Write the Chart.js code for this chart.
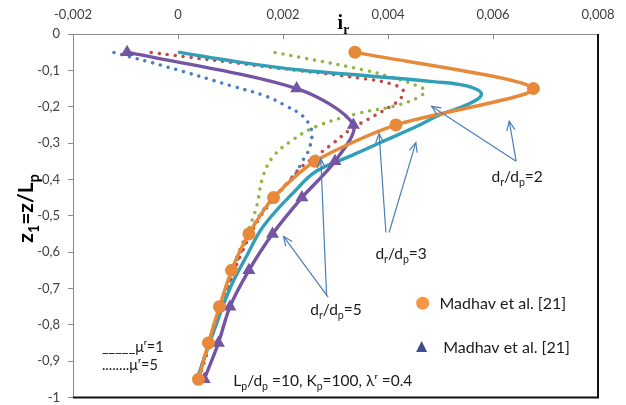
<!DOCTYPE html>
<html><head><meta charset="utf-8">
<script src="https://cdn.jsdelivr.net/npm/chart.js@4"></script>
<style>html,body{margin:0;padding:0;background:#fff;}#wrap{width:626px;height:405px;}</style>
</head><body><div id="wrap"><canvas id="c" width="626" height="405"></canvas></div>
<script>
// ---- tick labels ----
const xTickValues = [-0.002, 0, 0.002, 0.004, 0.006, 0.008];
const xTickLabels = ['-0,002', '0', '0,002', '0,004', '0,006', '0,008'];
const yTickValues = [0, -0.1, -0.2, -0.3, -0.4, -0.5, -0.6, -0.7, -0.8, -0.9, -1];
const yTickLabels = ['0', '-0,1', '-0,2', '-0,3', '-0,4', '-0,5', '-0,6', '-0,7', '-0,8', '-0,9', '-1'];

// ---- mu_r = 1 (solid) ----
const z_mu1_d2 = [-0.05, -0.15, -0.25, -0.35, -0.45, -0.55, -0.65, -0.75, -0.85, -0.95];
const ir_mu1_d2 = [0.00337, 0.00677, 0.00415, 0.00261, 0.00182, 0.00135, 0.00102, 0.00079, 0.00058, 0.00039];

const z_mu1_d5 = [-0.05, -0.15, -0.25, -0.35, -0.45, -0.55, -0.65, -0.75, -0.85, -0.95];
const ir_mu1_d5 = [-0.00097, 0.00226, 0.00334, 0.00299, 0.00236, 0.00180, 0.00135, 0.00099, 0.00077, 0.00050];

const z_mu1_d3 = [-0.05, -0.078, -0.099, -0.115, -0.131, -0.143, -0.166, -0.195, -0.222, -0.254, -0.295, -0.336, -0.377, -0.427, -0.528, -0.61, -0.70, -0.81, -0.90, -0.95];
const ir_mu1_d3 = [0.0, 0.0012, 0.00232, 0.0036, 0.00486, 0.0055, 0.00578, 0.0055, 0.00499, 0.00455, 0.00391, 0.00328, 0.00264, 0.00226, 0.00163, 0.00131, 0.00099, 0.0007, 0.00048, 0.00036];

// ---- mu_r = 5 (dotted) ----
const z_mu5_d2 = [-0.051, -0.064, -0.101, -0.126, -0.146, -0.155, -0.172, -0.199, -0.217, -0.254, -0.29, -0.336, -0.391, -0.473, -0.528, -0.592, -0.665, -0.738, -0.81, -0.88, -0.95];
const ir_mu5_d2 = [0.00185, 0.00232, 0.0036, 0.00423, 0.00461, 0.0047, 0.00461, 0.0041, 0.00347, 0.00264, 0.0022, 0.00182, 0.00162, 0.0015, 0.00137, 0.00118, 0.00099, 0.00083, 0.00067, 0.00052, 0.0004];

const z_mu5_d3 = [-0.051, -0.09, -0.124, -0.14, -0.158, -0.18, -0.2, -0.236, -0.263, -0.300, -0.335, -0.370, -0.41, -0.45, -0.5, -0.6, -0.7, -0.8, -0.88, -0.95];
const ir_mu5_d3 = [-0.00051, 0.00169, 0.0036, 0.00412, 0.0043, 0.00422, 0.00404, 0.0036, 0.00328, 0.00296, 0.00264, 0.00232, 0.00208, 0.00186, 0.00158, 0.00122, 0.00095, 0.00072, 0.00055, 0.0004];

const z_mu5_d5 = [-0.051, -0.09, -0.144, -0.172, -0.199, -0.225, -0.255, -0.281, -0.31, -0.332, -0.354, -0.382, -0.43, -0.5, -0.6, -0.7, -0.8, -0.88, -0.95];
const ir_mu5_d5 = [-0.00122, -0.00022, 0.00105, 0.00169, 0.00207, 0.00237, 0.00252, 0.00255, 0.00251, 0.00245, 0.00235, 0.00226, 0.00195, 0.00155, 0.0012, 0.00093, 0.0007, 0.00052, 0.00038];

const legendText = 'Madhav et al. [21]';

// ---- annotation placement (data units) ----
const ANN = {
  labels: [
    { n: '2', x: 0.00646, y: -0.407 },
    { n: '3', x: 0.00425, y: -0.619 },
    { n: '5', x: 0.00301, y: -0.772 }
  ],
  arrows: [
    [0.00644, -0.350, 0.00483, -0.199],
    [0.00644, -0.350, 0.00631, -0.240],
    [0.00396, -0.546, 0.00383, -0.274],
    [0.00402, -0.546, 0.00453, -0.299],
    [0.00286, -0.724, 0.00201, -0.557],
    [0.00283, -0.720, 0.00272, -0.343]
  ]
};

const pts = (xs, ys) => xs.map((v, i) => ({ x: v, y: ys[i] }));
const lookup = (v, vals, labs) => {
  for (let i = 0; i < vals.length; i++) if (Math.abs(vals[i] - v) < 1e-9) return labs[i];
  return '';
};

function rich(ctx, parts, x, y, size, family, weight, align, color) {
  const fonts = parts.map(p => `${weight} ${p[1] ? size * 0.68 : size}px ${family}`);
  const widths = parts.map((p, i) => { ctx.font = fonts[i]; return ctx.measureText(p[0]).width; });
  const total = widths.reduce((a, b) => a + b, 0);
  let cx = align === 'center' ? x - total / 2 : x;
  ctx.fillStyle = color;
  ctx.textAlign = 'left';
  ctx.textBaseline = 'alphabetic';
  parts.forEach((p, i) => {
    ctx.font = fonts[i];
    ctx.fillText(p[0], cx, y + (p[1] ? size * 0.27 : 0));
    cx += widths[i];
  });
}

const overlay = {
  id: 'overlay',
  afterDatasetsDraw(chart) {
    const { ctx, chartArea: a, scales: { x, y } } = chart;
    ctx.save();
    // inward ticks on the top axis
    ctx.strokeStyle = '#8a8a8a'; ctx.lineWidth = 1;
    xTickValues.forEach(v => {
      const px = Math.round(x.getPixelForValue(v)) + 0.5;
      ctx.beginPath(); ctx.moveTo(px, a.top); ctx.lineTo(px, a.top + 5); ctx.stroke();
    });
    // frame lines right & bottom
    ctx.strokeStyle = '#111'; ctx.lineWidth = 2;
    ctx.beginPath(); ctx.moveTo(a.left, a.bottom); ctx.lineTo(a.right, a.bottom); ctx.lineTo(a.right, a.top); ctx.stroke();

    // arrows
    ctx.strokeStyle = '#4A7EBB'; ctx.lineWidth = 1.2;
    ANN.arrows.forEach(([x0, y0, x1, y1]) => {
      const p0x = x.getPixelForValue(x0), p0y = y.getPixelForValue(y0);
      const p1x = x.getPixelForValue(x1), p1y = y.getPixelForValue(y1);
      ctx.beginPath(); ctx.moveTo(p0x, p0y); ctx.lineTo(p1x, p1y); ctx.stroke();
      const ang = Math.atan2(p1y - p0y, p1x - p0x), L = 10, h = 0.42;
      ctx.beginPath();
      ctx.moveTo(p1x - L * Math.cos(ang - h), p1y - L * Math.sin(ang - h));
      ctx.lineTo(p1x, p1y);
      ctx.lineTo(p1x - L * Math.cos(ang + h), p1y - L * Math.sin(ang + h));
      ctx.stroke();
    });
    // d_r/d_p labels
    ANN.labels.forEach(l => {
      rich(ctx, [['d', 0], ['r', 1], ['/d', 0], ['p', 1], ['=' + l.n, 0]],
        x.getPixelForValue(l.x), y.getPixelForValue(l.y), 15.5, 'Lato', 'normal', 'center', '#1a1a1a');
    });
    // legend markers and texts
    const lx1 = x.getPixelForValue(0.00466), ly1 = y.getPixelForValue(-0.7405);
    ctx.fillStyle = '#F79646';
    ctx.beginPath(); ctx.arc(lx1, ly1, 6.5, 0, Math.PI * 2); ctx.fill();
    const lx2 = x.getPixelForValue(0.00464), ly2 = y.getPixelForValue(-0.861);
    ctx.fillStyle = '#3D4F8C';
    ctx.beginPath(); ctx.moveTo(lx2, ly2 - 6); ctx.lineTo(lx2 + 5.5, ly2 + 5); ctx.lineTo(lx2 - 5.5, ly2 + 5); ctx.closePath(); ctx.fill();
    rich(ctx, [[legendText, 0]], x.getPixelForValue(0.00498), y.getPixelForValue(-0.756), 16, 'Lato', 'normal', 'left', '#1a1a1a');
    rich(ctx, [[legendText, 0]], x.getPixelForValue(0.00505), y.getPixelForValue(-0.877), 16, 'Lato', 'normal', 'left', '#1a1a1a');
    // mu texts
    rich(ctx, [['_____\u03bc\u02b3=1', 0]], x.getPixelForValue(-0.00145), y.getPixelForValue(-0.874), 14.5, 'Lato', 'normal', 'left', '#1a1a1a');
    rich(ctx, [['........\u03bc\u02b3=5', 0]], x.getPixelForValue(-0.00145), y.getPixelForValue(-0.925), 14.5, 'Lato', 'normal', 'left', '#1a1a1a');
    // parameter text
    rich(ctx, [['L', 0], ['p', 1], ['/d', 0], ['p', 1], [' =10, K', 0], ['p', 1], ['=100, \u03bb\u02b3 =0.4', 0]],
      x.getPixelForValue(0.001053), y.getPixelForValue(-0.968), 15.5, 'Lato', 'normal', 'left', '#1a1a1a');

    // axis titles
    rich(ctx, [['i', 0], ['r', 1]], x.getPixelForValue(0.00304), 29, 20, '"Liberation Serif"', 'bold', 'left', '#000');
    ctx.translate(26, y.getPixelForValue(-0.48));
    ctx.rotate(-Math.PI / 2);
    rich(ctx, [['z', 0], ['1', 1], ['=z/L', 0], ['p', 1]], 0, 7, 21, 'Lato', 'bold', 'center', '#000');
    ctx.restore();
  }
};

const solid = (label, xs, ys, color, extra) => Object.assign({
  label, data: pts(xs, ys), showLine: true, borderColor: color, backgroundColor: color,
  borderWidth: 3.4, tension: 0.3, pointRadius: 0, pointHoverRadius: 0
}, extra || {});
const dotted = (label, xs, ys, color) => ({
  label, data: pts(xs, ys), showLine: true, borderColor: color, backgroundColor: color,
  borderWidth: 3.6, borderDash: [0, 8], borderCapStyle: 'round', tension: 0.4, pointRadius: 0
});

new Chart(document.getElementById('c'), {
  type: 'scatter',
  data: {
    datasets: [
      solid('dr/dp=2, μr=1', ir_mu1_d2, z_mu1_d2, '#E8893A', { tension: 0.25, pointRadius: 6.5, pointStyle: 'circle', pointBorderWidth: 0 }),
      solid('dr/dp=5, μr=1', ir_mu1_d5, z_mu1_d5, '#7355A3', { pointRadius: 7.5, pointStyle: 'triangle', pointBorderWidth: 0 }),
      solid('dr/dp=3, μr=1', ir_mu1_d3, z_mu1_d3, '#31A0B6', { tension: 0.4 }),
      dotted('dr/dp=2, μr=5', ir_mu5_d2, z_mu5_d2, '#8DB846'),
      dotted('dr/dp=3, μr=5', ir_mu5_d3, z_mu5_d3, '#BE4B48'),
      dotted('dr/dp=5, μr=5', ir_mu5_d5, z_mu5_d5, '#4A7CC0')
    ]
  },
  options: {
    responsive: false, animation: false, events: [],
    layout: { padding: { left: 0, top: 0, right: 28, bottom: 6 } },
    plugins: { legend: { display: false }, tooltip: { enabled: false } },
    scales: {
      x: {
        type: 'linear', position: 'top', min: -0.002, max: 0.008,
        ticks: { stepSize: 0.002, padding: 11, color: '#404040', font: { family: 'Lato', size: 13 }, maxRotation: 0, autoSkip: false,
                 callback: v => lookup(v, xTickValues, xTickLabels) },
        grid: { drawOnChartArea: false, drawTicks: false },
        border: { display: true, color: '#8a8a8a', width: 1 },
        afterFit(s) { s.height = 34; s.paddingLeft = 0; s.paddingRight = 0; }
      },
      y: {
        type: 'linear', min: -1, max: 0,
        ticks: { stepSize: 0.1, padding: 8, color: '#404040', font: { family: 'Lato', size: 13 },
                 callback: v => lookup(v, yTickValues, yTickLabels) },
        grid: { drawOnChartArea: false, drawTicks: true, tickLength: 5, color: '#8a8a8a' },
        border: { display: true, color: '#8a8a8a', width: 1 },
        afterFit(s) { s.width = 73; s.paddingTop = 0; s.paddingBottom = 0; }
      }
    }
  },
  plugins: [overlay]
});
</script>
</body></html>
